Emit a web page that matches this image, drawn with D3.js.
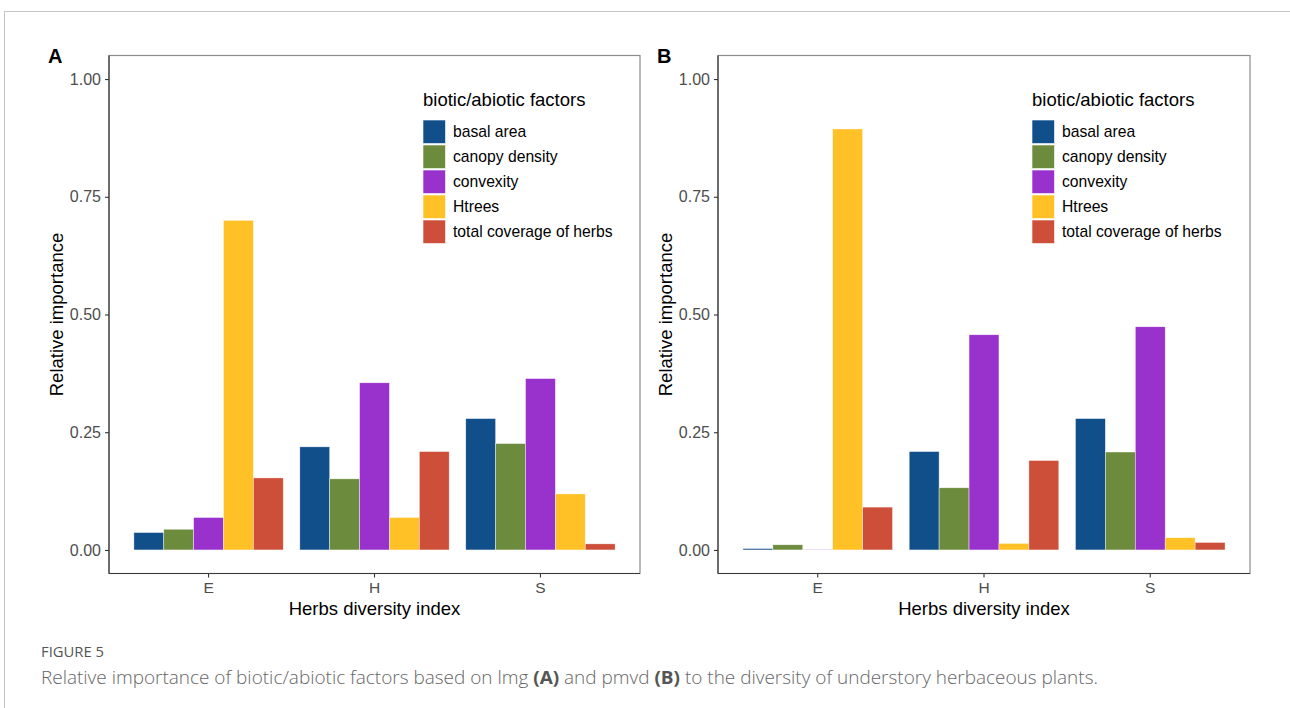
<!DOCTYPE html>
<html>
<head>
<meta charset="utf-8">
<script src="https://cdn.jsdelivr.net/npm/d3@7"></script>
<style>
  html, body { margin: 0; padding: 0; background: #fff; }
  svg { display: block; }
</style>
</head>
<body>
<svg id="chart" width="1290" height="708"></svg>
<script>
// ---------- data ----------
const categories = ["E", "H", "S"];
const factors = ["basal area", "canopy density", "convexity", "Htrees", "total coverage of herbs"];
const factorColors = ["#114f8a", "#6d8b3d", "#9932cc", "#ffc125", "#cd4f39"];
// panel A (lmg): values per category, in factor order
const lmgE = [0.037, 0.044, 0.069, 0.700, 0.153];
const lmgH = [0.219, 0.151, 0.355, 0.069, 0.209];
const lmgS = [0.279, 0.226, 0.364, 0.119, 0.013];
// panel B (pmvd)
const pmvdE = [0.003, 0.011, 0.001, 0.894, 0.091];
const pmvdH = [0.209, 0.132, 0.457, 0.014, 0.190];
const pmvdS = [0.279, 0.208, 0.474, 0.026, 0.016];
const yTicks = [0, 0.25, 0.5, 0.75, 1.0];
const yTickLabels = ["0.00", "0.25", "0.50", "0.75", "1.00"];

const svg = d3.select("#chart");
const FONT = "Liberation Sans, Arial, sans-serif";

// frame lines
svg.append("line").attr("x1", 4).attr("x2", 1290).attr("y1", 11.5).attr("y2", 11.5)
  .attr("stroke", "#c4c4c4").attr("stroke-width", 1);
svg.append("line").attr("x1", 4.5).attr("x2", 4.5).attr("y1", 11).attr("y2", 708)
  .attr("stroke", "#c4c4c4").attr("stroke-width", 1);

function drawPanel(opt) {
  const { left, right, top, bottom, label, values } = opt;
  const g = svg.append("g");
  const y = d3.scaleLinear().domain([-0.05, 1.05]).range([bottom, top]);
  const x = d3.scaleBand().domain(categories).range([left, right])
    .paddingInner(0.1).paddingOuter(0.15);
  const xf = d3.scaleBand().domain(factors).range([0, x.bandwidth()]).padding(0);
  const color = d3.scaleOrdinal().domain(factors).range(factorColors);

  // bars
  const rows = [];
  categories.forEach((c, i) => {
    factors.forEach((f, j) => rows.push({ cat: c, factor: f, value: values[i][j] }));
  });
  g.selectAll("rect.bar").data(rows).join("rect")
    .attr("class", "bar")
    .attr("x", d => x(d.cat) + xf(d.factor))
    .attr("width", xf.bandwidth())
    .attr("y", d => y(d.value))
    .attr("height", d => y(0) - y(d.value))
    .attr("fill", d => color(d.factor))
    .attr("stroke", "#ffffff").attr("stroke-width", 0.6).attr("stroke-opacity", 0.7);

  // panel border
  g.append("rect").attr("x", left).attr("y", top)
    .attr("width", right - left).attr("height", bottom - top)
    .attr("fill", "none").attr("stroke", "#8c8c8c").attr("stroke-width", 1.2);

  // y axis
  const yAxis = d3.axisLeft(y).tickValues(yTicks)
    .tickFormat((d, i) => yTickLabels[i]).tickSize(4).tickPadding(4);
  const ya = g.append("g").attr("transform", `translate(${left},0)`).call(yAxis);
  ya.select(".domain").remove();
  ya.append("line").attr("x1", 0).attr("x2", 0).attr("y1", top).attr("y2", bottom)
    .attr("stroke", "#3a3a3a").attr("stroke-width", 1.2);
  ya.selectAll(".tick line").attr("stroke", "#333").attr("stroke-width", 1.1);
  ya.selectAll(".tick text").attr("fill", "#4d4d4d")
    .style("font-family", FONT).style("font-size", "16px");

  // x axis
  const xAxis = d3.axisBottom(x).tickSize(4).tickPadding(4);
  const xa = g.append("g").attr("transform", `translate(0,${bottom})`).call(xAxis);
  xa.select(".domain").remove();
  xa.append("line").attr("x1", left).attr("x2", right).attr("y1", 0).attr("y2", 0)
    .attr("stroke", "#3a3a3a").attr("stroke-width", 1.2);
  xa.selectAll(".tick line").attr("stroke", "#333").attr("stroke-width", 1.1);
  xa.selectAll(".tick text").attr("fill", "#4d4d4d")
    .style("font-family", FONT).style("font-size", "15.5px");

  // axis titles
  g.append("text").attr("transform", `translate(${left - 46},${(top + bottom) / 2}) rotate(-90)`)
    .attr("text-anchor", "middle")
    .style("font-family", FONT).style("font-size", "18.5px")
    .attr("fill", "#000").text("Relative importance");
  g.append("text").attr("x", (left + right) / 2).attr("y", bottom + 41)
    .attr("text-anchor", "middle")
    .style("font-family", FONT).style("font-size", "18.5px")
    .attr("fill", "#000").text("Herbs diversity index");

  // panel tag
  g.append("text").attr("x", left - 61).attr("y", 63)
    .style("font-family", FONT).style("font-size", "20px")
    .style("font-weight", "bold").attr("fill", "#000").text(label);

  // legend
  const lx = left + 314, ly = 120;
  const lg = g.append("g");
  lg.append("text").attr("x", lx).attr("y", ly - 14)
    .style("font-family", FONT).style("font-size", "18.5px")
    .attr("fill", "#000").text("biotic/abiotic factors");
  factors.forEach((f, i) => {
    lg.append("rect").attr("x", lx).attr("y", ly + i * 25)
      .attr("width", 22.5).attr("height", 23.5)
      .attr("fill", color(f)).attr("stroke", "#fff").attr("stroke-width", 0.6);
    lg.append("text").attr("x", lx + 30).attr("y", ly + i * 25 + 11.75)
      .attr("dy", "0.35em")
      .style("font-family", FONT).style("font-size", "15.7px")
      .attr("fill", "#000").text(f);
  });
}

drawPanel({ left: 109, right: 640, top: 55.5, bottom: 573.5, label: "A", values: [lmgE, lmgH, lmgS] });
drawPanel({ left: 718, right: 1250, top: 55.5, bottom: 573.5, label: "B", values: [pmvdE, pmvdH, pmvdS] });

// caption
svg.append("text").attr("x", 41).attr("y", 657)
  .style("font-family", "Open Sans, Lato, sans-serif").style("font-size", "14px")
  .attr("fill", "#555").attr("textLength", 63).attr("lengthAdjust", "spacingAndGlyphs")
  .text("FIGURE 5");
const cap = svg.append("text").attr("x", 41).attr("y", 684)
  .style("font-family", "Open Sans, Lato, sans-serif").style("font-size", "18.5px")
  .style("font-weight", "300")
  .attr("fill", "#666").attr("textLength", 1057).attr("lengthAdjust", "spacingAndGlyphs");
cap.append("tspan").text("Relative importance of biotic/abiotic factors based on lmg ");
cap.append("tspan").style("font-weight", "bold").attr("fill", "#555").text("(A)");
cap.append("tspan").text(" and pmvd ");
cap.append("tspan").style("font-weight", "bold").attr("fill", "#555").text("(B)");
cap.append("tspan").text(" to the diversity of understory herbaceous plants.");
</script>
</body>
</html>
